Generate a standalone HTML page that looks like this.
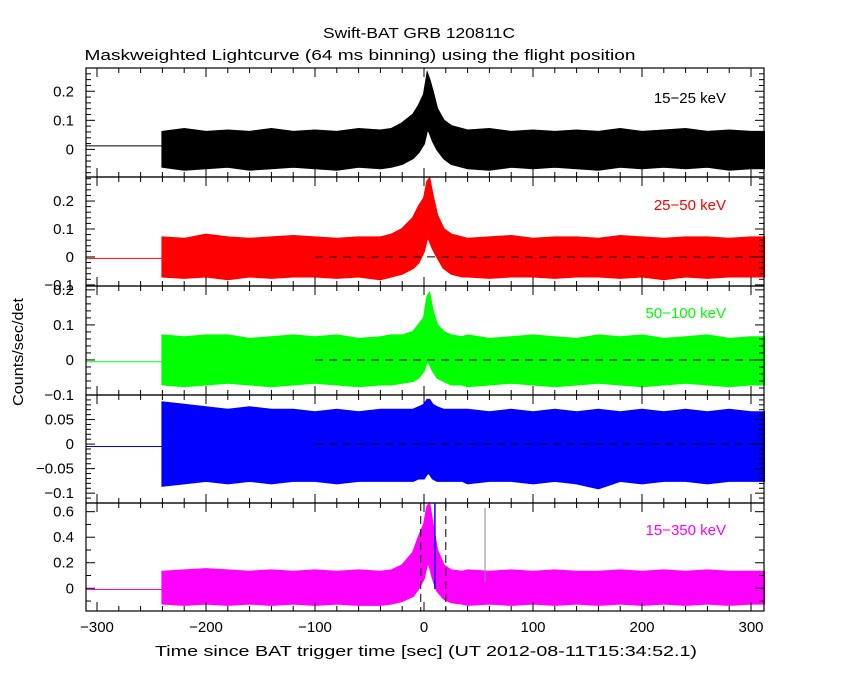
<!DOCTYPE html>
<html><head><meta charset="utf-8"><style>
html,body{margin:0;padding:0;background:#fff}
svg{display:block}
text{font-family:"Liberation Sans",sans-serif;font-size:15px}
</style></head><body>
<svg id="c" width="850" height="680" xmlns="http://www.w3.org/2000/svg">
<rect width="850" height="680" fill="#fff"/>
<text x="419" y="38" text-anchor="middle" textLength="192" lengthAdjust="spacingAndGlyphs" font-size="16">Swift-BAT GRB 120811C</text>
<text x="360" y="60" text-anchor="middle" textLength="551" lengthAdjust="spacingAndGlyphs" font-size="16">Maskweighted Lightcurve (64 ms binning) using the flight position</text>
<text x="426" y="656" text-anchor="middle" textLength="542" lengthAdjust="spacingAndGlyphs" font-size="16">Time since BAT trigger time [sec] (UT 2012-08-11T15:34:52.1)</text>
<text transform="translate(23,352) rotate(-90)" text-anchor="middle" textLength="108" lengthAdjust="spacingAndGlyphs" font-size="16">Counts/sec/det</text>
</svg>
<script>
// ---- data ----
const baseTimes = [-240,-220,-200,-180,-160,-140,-120,-100,-80,-60,-40,-20,0,20,40,60,80,100,120,140,160,180,200,220,240,260,280,300];
const peakTimes = [-30,-20,-10,-5,0,3,5,8,12,18,25,35];
const xTickLabels = [-300,-200,-100,0,100,200,300];
const panelLabels = ["15−25 keV","25−50 keV","50−100 keV","","15−350 keV"];
const preLevels = [0.012,-0.005,-0.005,-0.005,-0.01];
// panel 1 (15-25 keV)
const up1 = [0.06,0.07,0.06,0.065,0.06,0.07,0.06,0.065,0.06,0.07,0.065,0.07,0.07,0.06,0.065,0.07,0.06,0.065,0.06,0.065,0.06,0.07,0.06,0.065,0.07,0.06,0.065,0.06];
const lo1 = [-0.06,-0.07,-0.065,-0.06,-0.07,-0.065,-0.06,-0.065,-0.07,-0.06,-0.065,-0.06,-0.05,-0.06,-0.065,-0.07,-0.06,-0.065,-0.06,-0.065,-0.07,-0.06,-0.065,-0.06,-0.065,-0.06,-0.07,-0.065];
const pkUp1 = [0.07,0.09,0.12,0.15,0.19,0.26,0.24,0.2,0.14,0.1,0.08,0.07];
const pkLo1 = [-0.06,-0.05,-0.03,-0.01,0.02,0.07,0.06,0.03,0.0,-0.03,-0.05,-0.06];
// panel 2 (25-50 keV)
const up2 = [0.07,0.065,0.08,0.07,0.065,0.07,0.075,0.07,0.065,0.07,0.07,0.075,0.07,0.07,0.065,0.07,0.075,0.065,0.07,0.07,0.065,0.075,0.07,0.065,0.07,0.07,0.065,0.07];
const lo2 = [-0.07,-0.075,-0.07,-0.08,-0.07,-0.075,-0.07,-0.07,-0.075,-0.07,-0.08,-0.07,-0.06,-0.075,-0.07,-0.075,-0.07,-0.07,-0.075,-0.07,-0.07,-0.075,-0.07,-0.08,-0.07,-0.075,-0.07,-0.07];
const pkUp2 = [0.08,0.1,0.14,0.18,0.21,0.27,0.28,0.22,0.15,0.1,0.08,0.07];
const pkLo2 = [-0.07,-0.06,-0.04,-0.02,0.02,0.07,0.06,0.03,0.0,-0.04,-0.06,-0.07];
// panel 3 (50-100 keV)
const up3 = [0.07,0.065,0.07,0.07,0.06,0.065,0.07,0.065,0.07,0.06,0.065,0.07,0.07,0.065,0.07,0.06,0.065,0.07,0.065,0.06,0.07,0.065,0.07,0.06,0.065,0.07,0.06,0.065];
const lo3 = [-0.07,-0.075,-0.07,-0.065,-0.07,-0.075,-0.07,-0.065,-0.07,-0.075,-0.07,-0.065,-0.06,-0.07,-0.075,-0.07,-0.065,-0.07,-0.075,-0.07,-0.065,-0.07,-0.075,-0.07,-0.065,-0.07,-0.075,-0.07];
const pkUp3 = [0.07,0.07,0.08,0.1,0.12,0.18,0.19,0.14,0.1,0.08,0.07,0.065];
const pkLo3 = [-0.07,-0.065,-0.06,-0.05,-0.03,0.0,-0.01,-0.03,-0.05,-0.06,-0.07,-0.07];
// panel 4 (100-350 keV)
const up4 = [0.085,0.08,0.075,0.07,0.075,0.07,0.07,0.065,0.07,0.065,0.07,0.07,0.07,0.065,0.07,0.065,0.07,0.065,0.07,0.065,0.07,0.065,0.07,0.065,0.07,0.065,0.07,0.065];
const lo4 = [-0.085,-0.08,-0.075,-0.08,-0.075,-0.08,-0.075,-0.075,-0.08,-0.075,-0.075,-0.08,-0.075,-0.075,-0.08,-0.075,-0.075,-0.08,-0.075,-0.08,-0.09,-0.075,-0.08,-0.075,-0.075,-0.08,-0.075,-0.075];
const pkUp4 = [0.07,0.07,0.07,0.075,0.08,0.09,0.09,0.08,0.075,0.07,0.07,0.07];
const pkLo4 = [-0.075,-0.075,-0.075,-0.07,-0.07,-0.06,-0.06,-0.07,-0.075,-0.075,-0.075,-0.075];
// panel 5 (15-350 keV)
const up5 = [0.13,0.14,0.15,0.14,0.13,0.14,0.13,0.14,0.13,0.14,0.13,0.14,0.14,0.13,0.14,0.13,0.14,0.13,0.14,0.13,0.13,0.14,0.13,0.14,0.13,0.14,0.13,0.13];
const lo5 = [-0.12,-0.13,-0.12,-0.13,-0.12,-0.13,-0.12,-0.13,-0.12,-0.13,-0.13,-0.12,-0.1,-0.12,-0.13,-0.12,-0.13,-0.12,-0.13,-0.12,-0.13,-0.12,-0.13,-0.12,-0.13,-0.12,-0.13,-0.12];
const pkUp5 = [0.14,0.18,0.28,0.4,0.5,0.64,0.66,0.5,0.3,0.18,0.14,0.13];
const pkLo5 = [-0.12,-0.1,-0.06,0.0,0.08,0.2,0.18,0.08,-0.02,-0.08,-0.11,-0.12];

const panelUp = [up1,up2,up3,up4,up5];
const panelLo = [lo1,lo2,lo3,lo4,lo5];
const panelPkUp = [pkUp1,pkUp2,pkUp3,pkUp4,pkUp5];
const panelPkLo = [pkLo1,pkLo2,pkLo3,pkLo4,pkLo5];

// ---- layout ----
const NS="http://www.w3.org/2000/svg";
const svg=document.getElementById('c');
const L=86,R=764,X0=424,PX=1.09;
const xs=t=>X0+t*PX;
const tops=[68,177,286,395,503], bots=[177,286,395,503,611];
const yRanges=[[-0.095,0.28],[-0.104,0.286],[-0.1,0.211],[-0.12,0.1],[-0.178,0.668]];
const majors=[[0,0.1,0.2],[-0.1,0,0.1,0.2],[-0.1,0,0.1,0.2],[-0.1,-0.05,0,0.05],[0,0.2,0.4,0.6]];
const majLabels=[["0","0.1","0.2"],["−0.1","0","0.1","0.2"],["−0.1","0","0.1","0.2"],["−0.1","−0.05","0","0.05"],["0","0.2","0.4","0.6"]];
const minorStep=[0.02,0.02,0.02,0.01,0.1];
const colors=["#000","#f00","#0f0","#00f","#f0f"];
const labelY=[103,210,318,0,535];

function mk(tag,attrs,parent){const e=document.createElementNS(NS,tag);for(const k in attrs)e.setAttribute(k,attrs[k]);(parent||svg).appendChild(e);return e;}

for(let p=0;p<5;p++){
  const [y0,y1]=yRanges[p],top=tops[p],bot=bots[p];
  const ys=v=>bot-(v-y0)/(y1-y0)*(bot-top);
  const g=mk('g',{});
  
  
  const pre=mk('line',{x1:L,x2:xs(-240),y1:ys(preLevels[p]),y2:ys(preLevels[p]),stroke:colors[p],'stroke-width':1},g);
  
  
  const ts=[...new Set([...baseTimes,...peakTimes])].sort((a,b)=>a-b);
  const interp=(xa,ya,t)=>{if(t<=xa[0]||t>=xa[xa.length-1])return null;for(let i=0;i<xa.length-1;i++){if(t>=xa[i]&&t<=xa[i+1]){const f=(t-xa[i])/(xa[i+1]-xa[i]);return ya[i]+f*(ya[i+1]-ya[i]);}}return null;};
  const upPts=[],loPts=[];
  ts.forEach(t=>{
    let u=interp(baseTimes,panelUp[p],t),l=interp(baseTimes,panelLo[p],t);
    const bi=baseTimes.indexOf(t);if(bi>=0){u=panelUp[p][bi];l=panelLo[p][bi];}
    const pi=peakTimes.indexOf(t);
    let pu=interp(peakTimes,panelPkUp[p],t),pl=interp(peakTimes,panelPkLo[p],t);
    if(pi>=0){pu=panelPkUp[p][pi];pl=panelPkLo[p][pi];}
    if(pu!==null){u=pu;l=pl;}
    upPts.push([xs(Math.min(t,312)),ys(u)]);loPts.push([xs(Math.min(t,312)),ys(l)]);
  });
  upPts.push([R,upPts[upPts.length-1][1]]);loPts.push([R,loPts[loPts.length-1][1]]);
  const pts=upPts.concat(loPts.reverse()).map(q=>q[0].toFixed(1)+','+q[1].toFixed(1)).join(' ');
  const band=mk('polygon',{points:pts,fill:colors[p],stroke:colors[p],'stroke-width':2,'stroke-linejoin':'miter'},g);
  
  
  if(p>=1&&p<=3){
    const z=mk('line',{x1:xs(-100),x2:R,y1:ys(0),y2:ys(0),stroke:'#000','stroke-dasharray':'8,6','stroke-width':1},g);
    
    
  }
  const fr=mk('rect',{x:L,y:top,width:R-L,height:bot-top,fill:'none',stroke:'#000','stroke-width':1.2},g);
  
  
  for(let t=-300;t<=300;t+=20){
    const big=t%100===0,len=big?9:5,x=xs(t);
    mk('line',{x1:x,x2:x,y1:top,y2:top+len,stroke:'#000'},g);
    mk('line',{x1:x,x2:x,y1:bot,y2:bot-len,stroke:'#000'},g);
  }
  const ms=minorStep[p];
  for(let k=Math.ceil(y0/ms);k*ms<=y1;k++){
    const v=k*ms,y=ys(v),big=majors[p].some(m=>Math.abs(m-v)<1e-9),len=big?9:5;
    mk('line',{x1:L,x2:L+len,y1:y,y2:y,stroke:'#000'},g);
    mk('line',{x1:R,x2:R-len,y1:y,y2:y,stroke:'#000'},g);
  }
  majors[p].forEach((v,i)=>{
    const tx=mk('text',{x:L-12,y:ys(v)+5,'text-anchor':'end'},g);
    tx.textContent=majLabels[p][i];
    
    
  });
  if(panelLabels[p]){
    const lb=mk('text',{x:726,y:labelY[p],'text-anchor':'end',fill:colors[p]},g);
    lb.textContent=panelLabels[p];
    
    
  }
  if(p===4){
    [-3,20].forEach(t=>{
      const d=mk('line',{x1:xs(t),x2:xs(t),y1:top,y2:bot,stroke:'#000','stroke-dasharray':'8,5'},g);
      
      
    });
    const b=mk('line',{x1:xs(10),x2:xs(10),y1:top,y2:bot-22,stroke:'#00f','stroke-width':1.5},g);
    
    
    const s=mk('line',{x1:xs(56),x2:xs(56),y1:top+5,y2:ys(0.05),stroke:'#888'},g);
    
    
  }
}
xTickLabels.forEach(t=>{
  const tx=mk('text',{x:xs(t),y:632,'text-anchor':'middle'});
  tx.textContent=t<0?'−'+(-t):String(t);
  
  
});
</script>
</body></html>
